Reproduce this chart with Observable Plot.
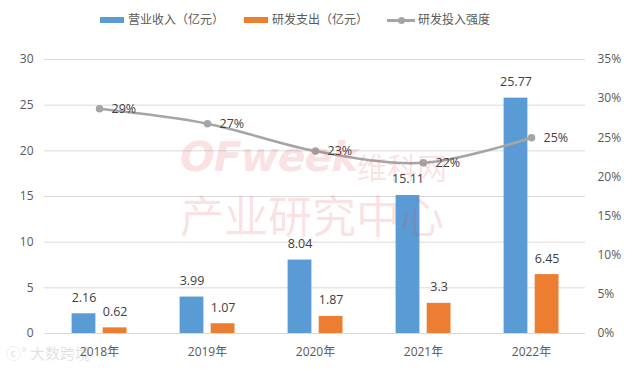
<!DOCTYPE html>
<html>
<head>
<meta charset="utf-8">
<script src="https://cdn.jsdelivr.net/npm/d3@7"></script>
<script src="https://cdn.jsdelivr.net/npm/@observablehq/plot@0.6"></script>
<style>
  html, body { margin: 0; padding: 0; background: #fff; }
  body { width: 638px; height: 370px; position: relative; overflow: hidden;
         font-family: "Open Sans", "Noto Sans CJK SC", sans-serif; }
  #legend { position: relative; height: 40px; width: 638px; font-size: 12px; color: #595959; }
  #legend .sw { position: absolute; }
  #legend .lbl { position: absolute; top: 11px; line-height: 18px; white-space: nowrap; }
  #chart { position: relative; }
  .wm { position: absolute; white-space: nowrap; color: rgba(226, 70, 80, 0.17); pointer-events: none; }
</style>
</head>
<body>
<div id="legend">
  <div class="sw" style="left:100px;top:17px;width:24px;height:6px;background:#5b9bd5"></div>
  <div class="lbl" style="left:128px">营业收入（亿元）</div>
  <div class="sw" style="left:244px;top:17px;width:24px;height:6px;background:#ed7d31"></div>
  <div class="lbl" style="left:272px">研发支出（亿元）</div>
  <div class="sw" style="left:387px;top:19px;width:28px;height:2.5px;background:#a5a5a5"></div>
  <div class="sw" style="left:397.5px;top:16.5px;width:7px;height:7px;border-radius:50%;background:#a5a5a5"></div>
  <div class="lbl" style="left:418px">研发投入强度</div>
</div>
<div id="chart"></div>
<div class="wm" style="left:180px;top:133px;font-family:'DejaVu Sans',sans-serif;font-weight:bold;font-style:italic;font-size:41px;letter-spacing:-1px">OFweek</div>
<div class="wm" style="left:357px;top:146px;font-family:'Noto Sans CJK SC';font-size:30px;line-height:40px">维科网</div>
<div class="wm" style="left:180px;top:186px;font-family:'Noto Sans CJK SC';font-size:44px;line-height:56px">产业研究中心</div>
<div class="wm" style="left:6px;top:342px;font-family:'Noto Sans CJK SC';font-size:15px;color:rgba(150,150,150,0.3)">ⓒ° 大数跨境</div>
<script>
const years = ["2018年", "2019年", "2020年", "2021年", "2022年"];
const revenue = [2.16, 3.99, 8.04, 15.11, 25.77];
const rdSpend = [0.62, 1.07, 1.87, 3.3, 6.45];
const rdIntensity = [0.287, 0.268, 0.233, 0.218, 0.250];
const leftTicks = [0, 5, 10, 15, 20, 25, 30];
const rightTicks = [0, 0.05, 0.10, 0.15, 0.20, 0.25, 0.30, 0.35];

const blue = "#5b9bd5", orange = "#ed7d31", gray = "#a5a5a5";
const scaleK = 30 / 0.35; // right-axis percent -> left-axis units

const data = years.map((y, i) => ({
  year: y, revenue: revenue[i], rd: rdSpend[i],
  pct: rdIntensity[i], pctY: rdIntensity[i] * scaleK
}));

const inset = 42.1;
const dxB = -15.5, dxO = 15.6;

const chart = Plot.plot({
  width: 638,
  height: 330,
  marginTop: 19,
  marginBottom: 37,
  marginLeft: 44,
  marginRight: 53,
  style: { fontFamily: '"Open Sans", "Noto Sans CJK SC", sans-serif', fontSize: "12px", color: "#595959", background: "#fff" },
  x: { type: "band", domain: years, padding: 0 },
  y: { domain: [0, 30] },
  marks: [
    Plot.gridY(leftTicks, { stroke: "#d9d9d9", strokeOpacity: 1, strokeWidth: 1 }),
    Plot.axisY(leftTicks, { anchor: "left", tickSize: 0, tickPadding: 11, label: null, fontSize: 12 }),
    Plot.axisY(rightTicks.map(p => p * scaleK), {
      anchor: "right", tickSize: 0, tickPadding: 12, label: null, fontSize: 12, textAnchor: "start",
      tickFormat: (d) => Math.round(d / scaleK * 100) + "%"
    }),
    Plot.axisX({ tickSize: 0, tickPadding: 14, label: null, fontSize: 12 }),
    Plot.barY(data, { x: "year", y: "revenue", fill: blue, insetLeft: inset, insetRight: inset, dx: dxB }),
    Plot.barY(data, { x: "year", y: "rd", fill: orange, insetLeft: inset, insetRight: inset, dx: dxO }),
    Plot.text(data, { x: "year", y: "revenue", text: d => String(d.revenue), dx: dxB, dy: -16, fill: "#404040", fontSize: 12.5 }),
    Plot.text(data, { x: "year", y: "rd", text: d => String(d.rd), dx: dxO, dy: -16, fill: "#404040", fontSize: 12.5 }),
    Plot.line(data, { x: "year", y: "pctY", stroke: gray, strokeWidth: 2.5, curve: "catmull-rom" }),
    Plot.dot(data, { x: "year", y: "pctY", fill: gray, r: 3.8 }),
    Plot.text(data, { x: "year", y: "pctY", text: d => Math.round(d.pct * 100) + "%", dx: 12, textAnchor: "start", fill: "#404040", fontSize: 12.5 })
  ]
});
document.getElementById("chart").appendChild(chart);
</script>
</body>
</html>
